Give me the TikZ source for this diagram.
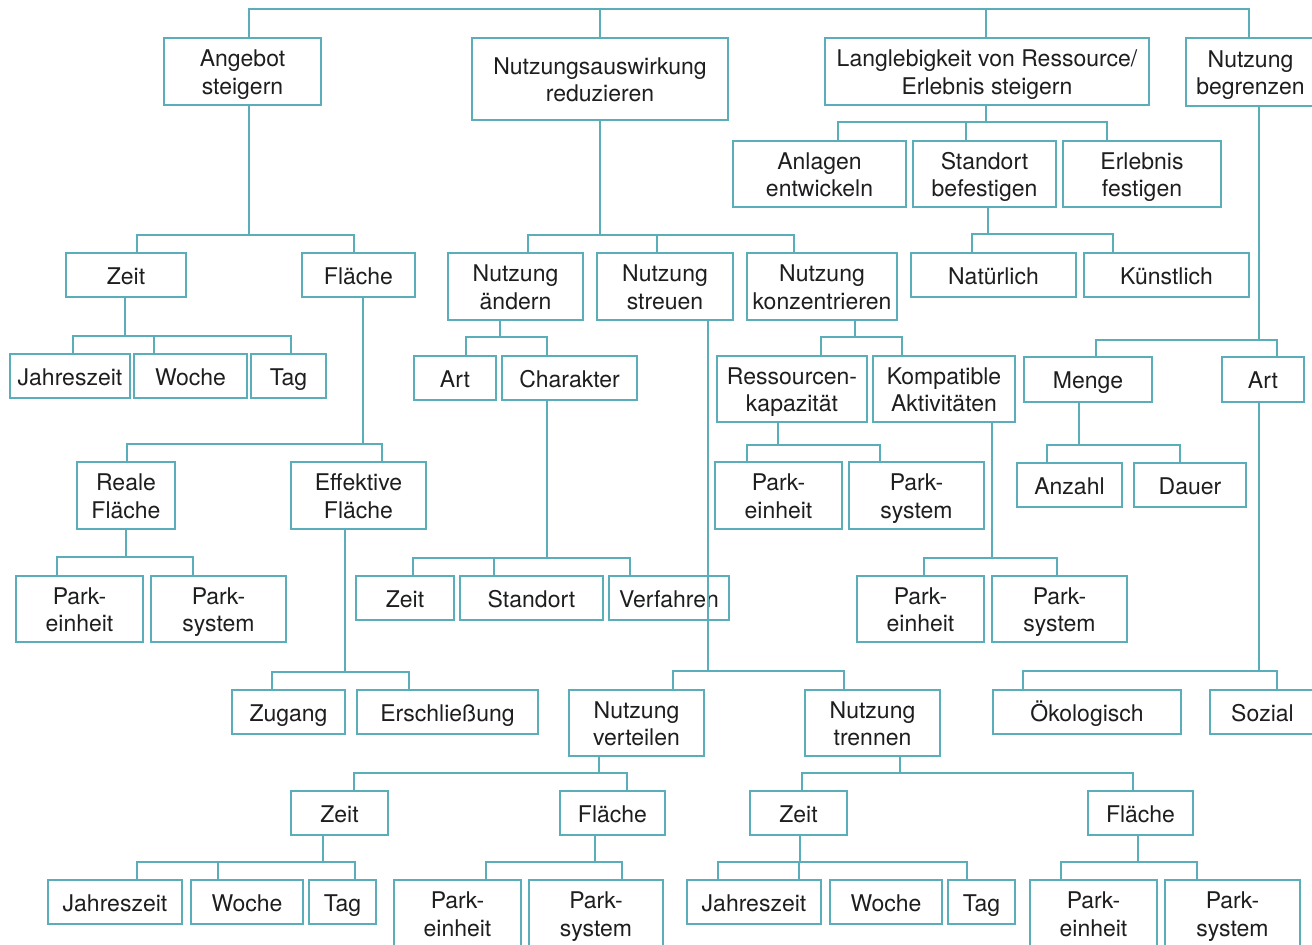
\documentclass[tikz,border=0pt]{standalone}
\usepackage{fontspec}
\setmainfont{TeX Gyre Heros}
\definecolor{teal1}{HTML}{5AAEBA}
\definecolor{ink}{HTML}{1E1E1E}
\tikzset{
  bx/.style={draw=teal1, line width=1.6pt, inner sep=0pt, align=center, text=ink,
    font=\fontsize{23}{27.5}\selectfont},
  conn/.style={draw=teal1, line width=1.6pt}
}
\newcommand\topstrut{\vrule width 0pt height 1.05em depth 0pt\relax}
\newcommand\botstrut{\vrule width 0pt height 0pt depth 0.25em\relax}
\newcommand\tbox[6]{%
  \expandafter\gdef\csname cx@#1\endcsname{((#2+#4)/2)}%
  \node[bx, minimum width={(#4-#2)*1pt}, minimum height={(#5-#3)*1pt}] (#1) at ({(#2+#4)/2},{(#3+#5)/2}) {\topstrut#6\botstrut};}
% parent, parent x, drop height, child/x list
\newcommand\fork[4]{%
  \foreach \cc/\xx in {#4}{%
    \draw[conn] ([xshift={(\xx-\csname cx@\cc\endcsname)*1pt}]\cc.north) -- ++(0,-#3)
      -| ([xshift={(#2-\csname cx@#1\endcsname)*1pt}]#1.south);}}
\begin{document}
\begin{tikzpicture}[x=1pt,y=-1pt]
\useasboundingbox (0,0) rectangle (1312,945);
\fill[white] (0,0) rectangle (1312,945);
\clip (0,0) rectangle (1312,945);

% top level
\tbox{A1}{164}{38}{321}{105}{Angebot\\steigern}
\tbox{A2}{472}{38}{728}{120}{Nutzungsauswirkung\\reduzieren}
\tbox{A3}{825}{38}{1149}{105}{Langlebigkeit von Ressource/\\Erlebnis steigern}
\tbox{A4}{1186}{38}{1315}{106}{Nutzung\\begrenzen}

% Angebot steigern
\tbox{B1}{66}{253}{186}{297}{Zeit}
\tbox{B2}{302}{253}{415}{297}{Fläche}
\tbox{C1}{10}{354}{130}{398}{Jahreszeit}
\tbox{C2}{134}{354}{247}{398}{Woche}
\tbox{C3}{251}{354}{326}{398}{Tag}
\tbox{D1}{77}{462}{175}{529}{Reale\\Fläche}
\tbox{D2}{291}{462}{426}{529}{Effektive\\Fläche}
\tbox{E1}{16}{576}{143}{642}{Park-\\einheit}
\tbox{E2}{151}{576}{286}{642}{Park-\\system}
\tbox{F1}{232}{690}{345}{734}{Zugang}
\tbox{F2}{357}{690}{538}{734}{Erschließung}

% Nutzungsauswirkung reduzieren
\tbox{G1}{448}{253}{583}{320}{Nutzung\\ändern}
\tbox{G2}{597}{253}{733}{320}{Nutzung\\streuen}
\tbox{G3}{747}{253}{897}{320}{Nutzung\\konzentrieren}
\tbox{H1}{414}{356}{496}{400}{Art}
\tbox{H2}{502}{356}{637}{400}{Charakter}
\tbox{I1}{356}{576}{454}{620}{Zeit}
\tbox{I2}{460}{576}{603}{620}{Standort}
\tbox{I3}{609}{576}{729}{620}{Verfahren}
\tbox{J1}{569}{690}{704}{756}{Nutzung\\verteilen}
\tbox{J2}{805}{690}{940}{756}{Nutzung\\trennen}
\tbox{K1}{291}{791}{388}{835}{Zeit}
\tbox{K2}{560}{791}{665}{835}{Fläche}
\tbox{L1}{48}{880}{182}{924}{Jahreszeit}
\tbox{L2}{191}{880}{303}{924}{Woche}
\tbox{L3}{309}{880}{376}{924}{Tag}
\tbox{M1}{394}{880}{521}{947}{Park-\\einheit}
\tbox{M2}{529}{880}{663}{947}{Park-\\system}
\tbox{N1}{750}{791}{847}{835}{Zeit}
\tbox{N2}{1088}{791}{1193}{835}{Fläche}
\tbox{O1}{687}{880}{821}{924}{Jahreszeit}
\tbox{O2}{830}{880}{942}{924}{Woche}
\tbox{O3}{948}{880}{1015}{924}{Tag}
\tbox{P1}{1030}{880}{1157}{947}{Park-\\einheit}
\tbox{P2}{1165}{880}{1300}{947}{Park-\\system}
\tbox{Q1}{717}{356}{867}{422}{Ressourcen-\\kapazität}
\tbox{Q2}{873}{356}{1015}{422}{Kompatible\\Aktivitäten}
\tbox{R1}{715}{462}{842}{529}{Park-\\einheit}
\tbox{R2}{849}{462}{984}{529}{Park-\\system}
\tbox{S1}{857}{576}{984}{642}{Park-\\einheit}
\tbox{S2}{992}{576}{1127}{642}{Park-\\system}

% Langlebigkeit
\tbox{T1}{733}{141}{906}{207}{Anlagen\\entwickeln}
\tbox{T2}{913}{141}{1056}{207}{Standort\\befestigen}
\tbox{T3}{1063}{141}{1221}{207}{Erlebnis\\festigen}
\tbox{U1}{911}{253}{1076}{297}{Natürlich}
\tbox{U2}{1084}{253}{1249}{297}{Künstlich}

% Nutzung begrenzen
\tbox{V1}{1024}{357}{1152}{402}{Menge}
\tbox{V2}{1222}{357}{1304}{402}{Art}
\tbox{W1}{1017}{463}{1122}{507}{Anzahl}
\tbox{W2}{1134}{463}{1246}{507}{Dauer}
\tbox{X1}{993}{690}{1181}{734}{Ökologisch}
\tbox{X2}{1210}{690}{1315}{734}{Sozial}

% root connectors
\draw[conn] ([xshift={(249-\csname cx@A1\endcsname)*1pt}]A1.north) -- ++(0,-28)
  -| ([xshift={(1249-\csname cx@A4\endcsname)*1pt}]A4.north);
\draw[conn] ([xshift={(600-\csname cx@A2\endcsname)*1pt}]A2.north) -- ++(0,-28);
\draw[conn] ([xshift={(986-\csname cx@A3\endcsname)*1pt}]A3.north) -- ++(0,-28);

% forks
\fork{A1}{249}{17}{B1/137,B2/354}
\fork{B1}{125}{17}{C1/73,C2/154,C3/291}
\fork{B2}{363}{17}{D1/127,D2/382}
\fork{D1}{126}{18}{E1/57,E2/193}
\fork{D2}{345}{17}{F1/272,F2/409}
\fork{A2}{600}{17}{G1/528,G2/657,G3/794}
\fork{G1}{500}{18}{H1/466,H2/547}
\fork{H2}{547}{17}{I1/413,I2/494,I3/630}
\fork{G2}{708}{18}{J1/673,J2/844}
\fork{J1}{599}{17}{K1/354,K2/627}
\fork{K1}{323}{17}{L1/137,L2/218,L3/355}
\fork{K2}{595}{17}{M1/486,M2/622}
\fork{J2}{900}{17}{N1/802,N2/1133}
\fork{N1}{800}{17}{O1/718,O2/799,O3/967}
\fork{N2}{1138}{17}{P1/1061,P2/1197}
\fork{G3}{855}{18}{Q1/821,Q2/902}
\fork{Q1}{778}{16}{R1/747,R2/880}
\fork{Q2}{992}{17}{S1/924,S2/1057}
\fork{A3}{986}{18}{T1/838,T2/966,T3/1107}
\fork{T2}{988}{18}{U1/972,U2/1113}
\fork{A4}{1259}{16}{V1/1096,V2/1277}
\fork{V1}{1079}{17}{W1/1047,W2/1180}
\fork{V2}{1259}{18}{X1/1023,X2/1277}
\end{tikzpicture}
\end{document}
